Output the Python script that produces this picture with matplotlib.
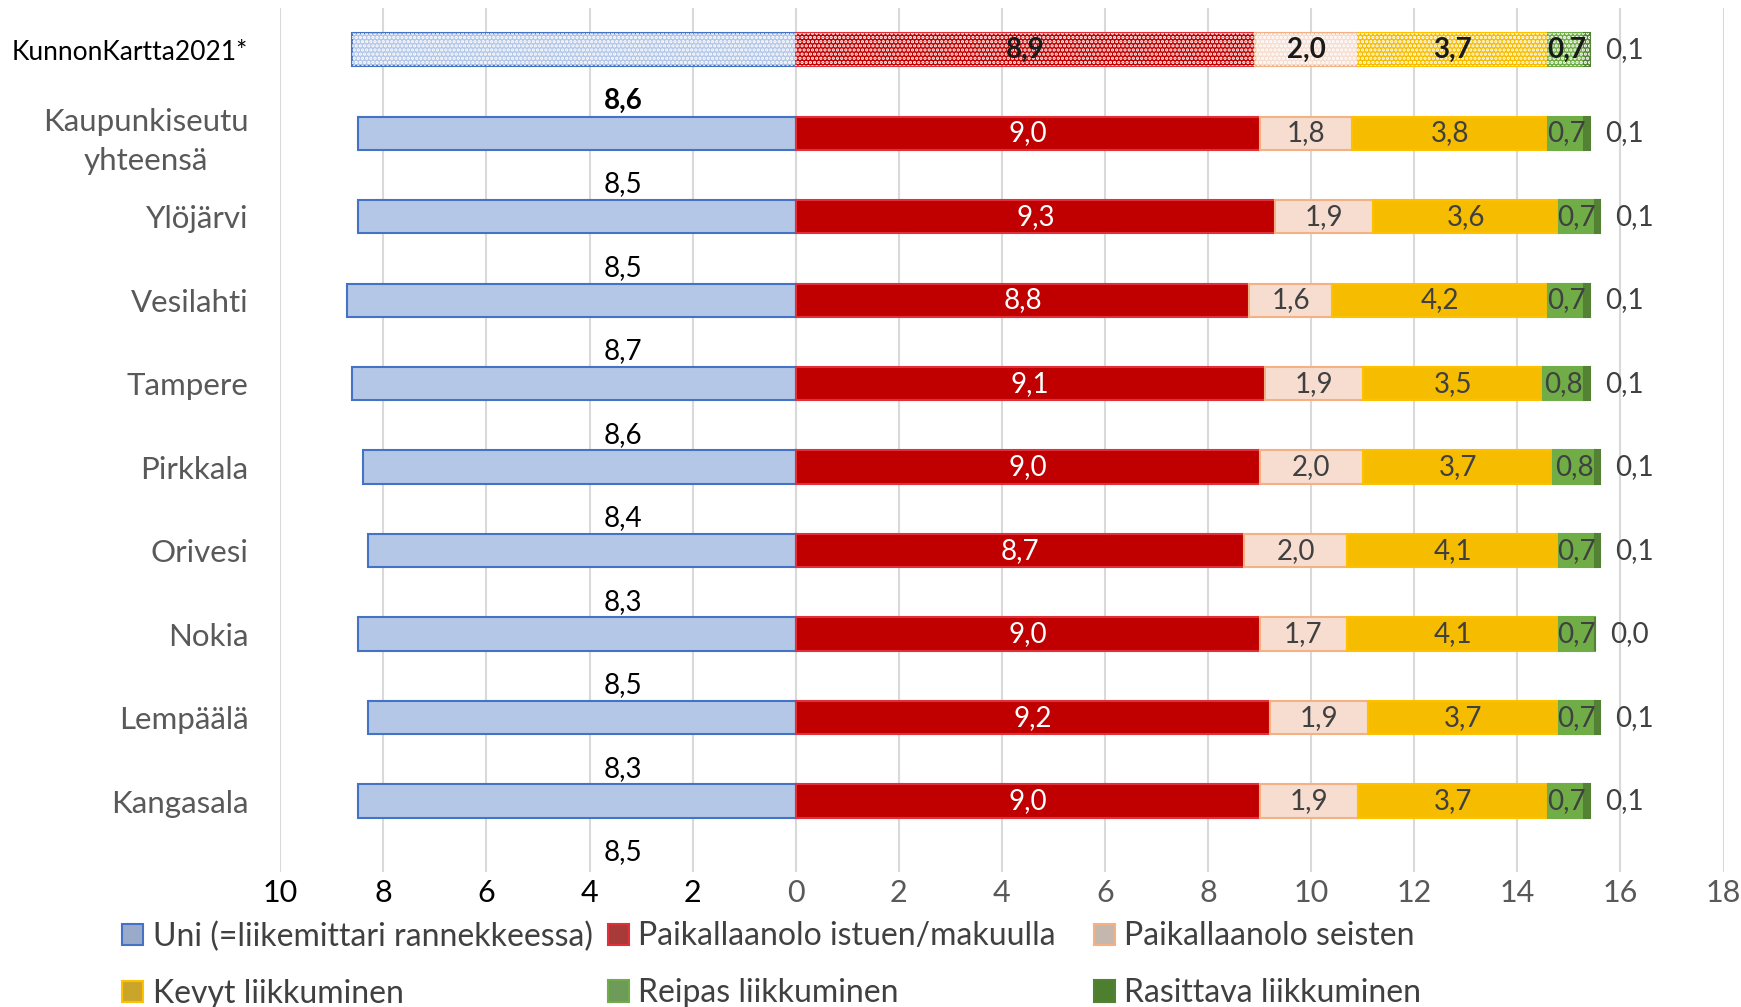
import matplotlib
matplotlib.use("Agg")
import matplotlib.pyplot as plt
import numpy as np
from matplotlib.patches import Patch

plt.rcParams["font.family"] = ["Lato", "DejaVu Sans"]
plt.rcParams["hatch.linewidth"] = 1.6

# ----------------------------- data -----------------------------
categories = ["KunnonKartta2021*", "Kaupunkiseutu\nyhteensä", "Ylöjärvi", "Vesilahti",
              "Tampere", "Pirkkala", "Orivesi", "Nokia", "Lempäälä", "Kangasala"]
uni = [8.6, 8.5, 8.5, 8.7, 8.6, 8.4, 8.3, 8.5, 8.3, 8.5]
istuen = [8.9, 9.0, 9.3, 8.8, 9.1, 9.0, 8.7, 9.0, 9.2, 9.0]
seisten = [2.0, 1.8, 1.9, 1.6, 1.9, 2.0, 2.0, 1.7, 1.9, 1.9]
kevyt = [3.7, 3.8, 3.6, 4.2, 3.5, 3.7, 4.1, 4.1, 3.7, 3.7]
reipas = [0.7, 0.7, 0.7, 0.7, 0.8, 0.8, 0.7, 0.7, 0.7, 0.7]
rasittava = [0.1, 0.1, 0.1, 0.1, 0.1, 0.1, 0.1, 0.0, 0.1, 0.1]

series_names = ["Uni (=liikemittari rannekkeessa)", "Paikallaanolo istuen/makuulla",
                "Paikallaanolo seisten", "Kevyt liikkuminen", "Reipas liikkuminen",
                "Rasittava liikkuminen"]
xticks = [-10, -8, -6, -4, -2, 0, 2, 4, 6, 8, 10, 12, 14, 16, 18]

# style: (face, edge, label colour)
styles = [
    ("#B4C7E7", "#4472C4", "#000000"),
    ("#C00000", "#E0303A", "#FFFFFF"),
    ("#F6DDD0", "#F4B183", "#404040"),
    ("#F5BC00", "#FFC000", "#404040"),
    ("#70AD47", "#70AD47", "#404040"),
    ("#548235", "#548235", "#404040"),
]
legend_faces = ["#9AAACB", "#A83A3A", "#C4B8AE", "#C9A52A", "#6E9A5A", "#4E7F2E"]


def fmt(v):
    return f"{v:.1f}".replace(".", ",")


fig = plt.figure(figsize=(17.41, 10.07), dpi=100)
ax = fig.add_axes([0.161, 0.134, 0.829, 0.858])

y = np.arange(len(categories))
h = 0.4
lab_fs = 20

# sleep to the left
for i in y:
    face, edge, _ = styles[0]
    ax.barh(i, -uni[i], height=h, color=face, edgecolor=edge, lw=1.5, zorder=3)
    if i == 0:
        ax.barh(i, -uni[i], height=h, color="none", edgecolor="white", hatch="....",
                lw=0, zorder=4)

# activities to the right
right = [istuen, seisten, kevyt, reipas, rasittava]
for i in y:
    left = 0.0
    for k, vals in enumerate(right):
        face, edge, tcol = styles[k + 1]
        v = vals[i]
        ax.barh(i, v, left=left, height=h, color=face, edgecolor=edge, lw=1.5, zorder=3)
        if i == 0:
            ax.barh(i, v, left=left, height=h, color="none", edgecolor="white",
                    hatch="....", lw=0, zorder=4)
        bold = "bold" if i == 0 else "normal"
        col = "#1a1a1a" if i == 0 else tcol
        if k < 4:
            ax.text(left + v / 2, i, fmt(v), ha="center", va="center", fontsize=lab_fs,
                    color=col, fontweight=bold, zorder=5)
        left += v
    ax.text(left + 0.3, i, fmt(rasittava[i]), ha="left", va="center", fontsize=lab_fs,
            color="#404040", zorder=5)

# sleep labels (sit below each bar)
for i in y:
    ax.text(-3.35, i + 0.61, fmt(uni[i]), ha="center", va="center", fontsize=lab_fs,
            color="#000000", fontweight="bold" if i == 0 else "normal", zorder=5)

ax.set_xlim(-10, 18)
ax.set_ylim(9.85, -0.5)
ax.set_xticks(xticks)
ax.set_xticklabels([str(abs(t)) for t in xticks], fontsize=22)
for t, lab in zip(xticks, ax.get_xticklabels()):
    lab.set_color("#000000" if t < 0 else "#595959")
ax.set_yticks(y)
ax.set_yticklabels(categories, fontsize=22.5, color="#595959", multialignment="center",
                   linespacing=1.5)
yl = ax.get_yticklabels()
yl[0].set_fontsize(19)
yl[0].set_color("#000000")
ax.tick_params(axis="both", length=0)
ax.tick_params(axis="y", pad=23)
ax.tick_params(axis="x", pad=5)
ax.grid(axis="x", color="#D9D9D9", lw=1.5, zorder=0)
for s in ax.spines.values():
    s.set_visible(False)

handles = [Patch(facecolor=legend_faces[k], edgecolor=styles[k][1], lw=1.5,
                 label=series_names[k]) for k in range(6)]
# one legend per column, rows: (Uni, Kevyt), (istuen, Reipas), (seisten, Rasittava)
for x0, pair in zip([0.0703, 0.3493, 0.6283], [(0, 3), (1, 4), (2, 5)]):
    fig.legend([handles[k] for k in pair], [series_names[k] for k in pair],
               loc="upper left", bbox_to_anchor=(x0, 0.085), ncol=1, frameon=False,
               fontsize=23, labelcolor="#404040", handlelength=0.65, handleheight=0.65,
               handletextpad=0.3, labelspacing=0.84, borderaxespad=0, borderpad=0)

fig.savefig("out.png", dpi=100)
